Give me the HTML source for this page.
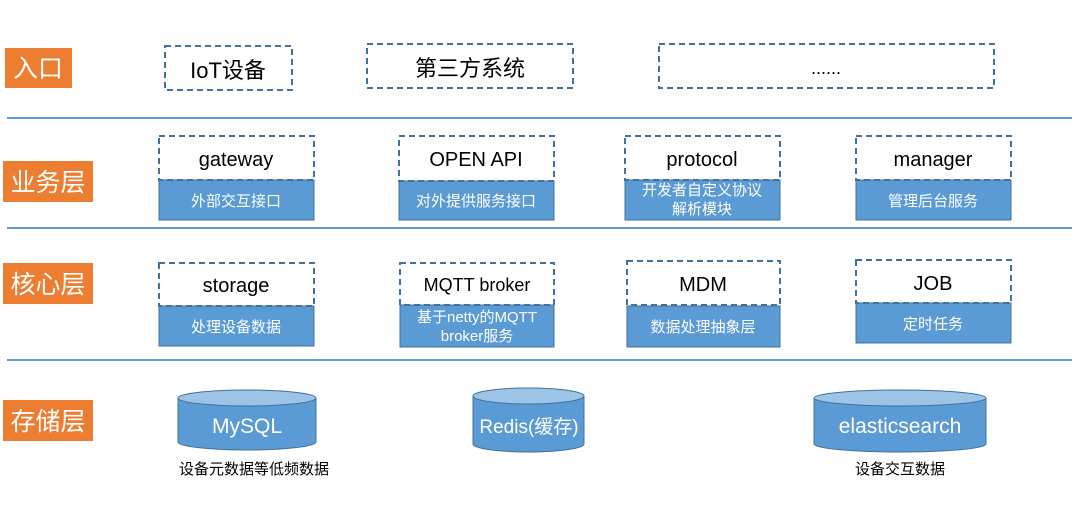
<!DOCTYPE html>
<html><head><meta charset="utf-8"><style>
html,body{margin:0;padding:0;background:#fff;}
svg text{font-family:"Liberation Sans","Noto Sans CJK SC",sans-serif;}
</style></head><body>
<svg width="1080" height="505" viewBox="0 0 1080 505" xmlns="http://www.w3.org/2000/svg">
<g fill="#ED7D31">
<rect x="5" y="48" width="67" height="40"/>
<rect x="3" y="161" width="90" height="41"/>
<rect x="3" y="263" width="90" height="41"/>
<rect x="3" y="400" width="90" height="41"/>
</g>
<g fill="#fff" font-size="25" text-anchor="middle">
<text x="38" y="77">入口</text>
<text x="48" y="191">业务层</text>
<text x="48" y="293">核心层</text>
<text x="48" y="430">存储层</text>
</g>
<g stroke="#5B9BD5" stroke-width="2">
<line x1="7" y1="118" x2="1072" y2="118"/>
<line x1="7" y1="228" x2="1072" y2="228"/>
<line x1="7" y1="360" x2="1072" y2="360"/>
</g>
<g fill="#5B9BD5" stroke="#41719C" stroke-width="1">
<rect x="159" y="180" width="155" height="40"/>
<rect x="399" y="181" width="155" height="39"/>
<rect x="625" y="180" width="155" height="40"/>
<rect x="856" y="180" width="155" height="40"/>
<rect x="159" y="306" width="155" height="40"/>
<rect x="400" y="305" width="154" height="42"/>
<rect x="627" y="306" width="153" height="41"/>
<rect x="856" y="303" width="155" height="40"/>
</g>
<g fill="none" stroke="#41719C" stroke-width="2" stroke-dasharray="6,4">
<rect x="165" y="46" width="127" height="44"/>
<rect x="367" y="44" width="206" height="44"/>
<rect x="659" y="44" width="335" height="44"/>
<rect x="159" y="136" width="155" height="44"/>
<rect x="399" y="136" width="155" height="45"/>
<rect x="625" y="136" width="155" height="44"/>
<rect x="856" y="136" width="155" height="44"/>
<rect x="159" y="263" width="155" height="43"/>
<rect x="400" y="263" width="154" height="42"/>
<rect x="627" y="261" width="153" height="44"/>
<rect x="856" y="260" width="155" height="43"/>
</g>
<g fill="#000" text-anchor="middle">
<text x="228" y="78" font-size="22">IoT设备</text>
<text x="470" y="76" font-size="22">第三方系统</text>
<text x="826" y="74" font-size="18">......</text>
<text x="236" y="166" font-size="20">gateway</text>
<text x="476" y="166" font-size="20">OPEN API</text>
<text x="702" y="166" font-size="20">protocol</text>
<text x="933" y="166" font-size="20">manager</text>
<text x="236" y="292" font-size="20">storage</text>
<text x="477" y="291" font-size="18">MQTT broker</text>
<text x="703" y="291" font-size="20">MDM</text>
<text x="933" y="290" font-size="20">JOB</text>
</g>
<g fill="#fff" text-anchor="middle" font-size="15">
<text x="236" y="206">外部交互接口</text>
<text x="476" y="206">对外提供服务接口</text>
<text x="702" y="195">开发者自定义协议</text>
<text x="702" y="214">解析模块</text>
<text x="933" y="206">管理后台服务</text>
<text x="236" y="332">处理设备数据</text>
<text x="477" y="322">基于netty的MQTT</text>
<text x="477" y="341">broker服务</text>
<text x="703" y="332">数据处理抽象层</text>
<text x="933" y="329">定时任务</text>
</g>
<g stroke="#41719C" stroke-width="1">
<path d="M178 398 V442 A69 8 0 0 0 316 442 V398" fill="#5B9BD5"/>
<ellipse cx="247" cy="398" rx="69" ry="8" fill="#9DC3E6"/>
<path d="M473 396 V444 A55.5 8 0 0 0 584 444 V396" fill="#5B9BD5"/>
<ellipse cx="528.5" cy="396" rx="55.5" ry="8" fill="#9DC3E6"/>
<path d="M814 398 V444 A86 8 0 0 0 986 444 V398" fill="#5B9BD5"/>
<ellipse cx="900" cy="398" rx="86" ry="8" fill="#9DC3E6"/>
</g>
<g fill="#fff" text-anchor="middle" font-size="21">
<text x="247" y="433">MySQL</text>
<text x="529" y="433" font-size="19">Redis(缓存)</text>
<text x="900" y="433">elasticsearch</text>
</g>
<g fill="#000" text-anchor="middle" font-size="15">
<text x="254" y="474">设备元数据等低频数据</text>
<text x="900" y="474">设备交互数据</text>
</g>
</svg>
</body></html>
